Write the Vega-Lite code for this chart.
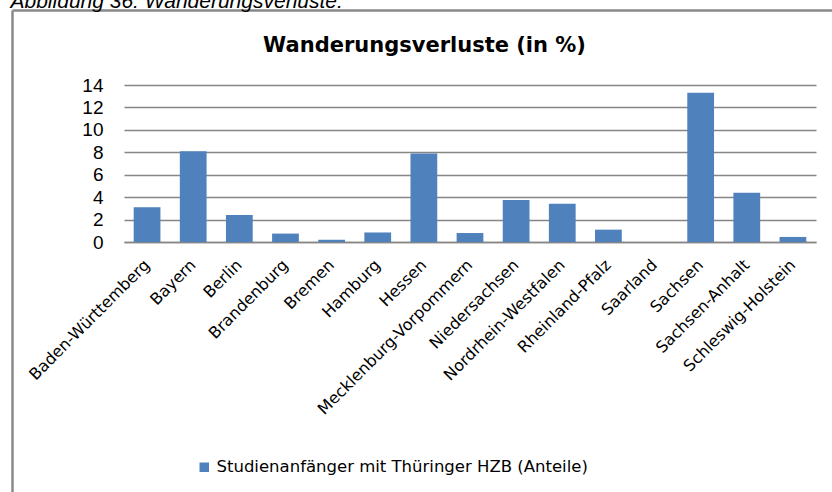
{
  "$schema": "https://vega.github.io/schema/vega-lite/v6.json",
  "autosize": {"type": "none"},
  "padding": {"left": 124, "top": 85, "right": 16, "bottom": 250},
  "width": 692,
  "height": 157,
  "background": "white",
  "config": {"view": {"stroke": null}},
  "data": {
    "values": [
      {"land": "Baden-Württemberg", "wert": 3.1, "serie": "Studienanfänger mit Thüringer HZB (Anteile)"},
      {"land": "Bayern", "wert": 8.1, "serie": "Studienanfänger mit Thüringer HZB (Anteile)"},
      {"land": "Berlin", "wert": 2.4, "serie": "Studienanfänger mit Thüringer HZB (Anteile)"},
      {"land": "Brandenburg", "wert": 0.75, "serie": "Studienanfänger mit Thüringer HZB (Anteile)"},
      {"land": "Bremen", "wert": 0.2, "serie": "Studienanfänger mit Thüringer HZB (Anteile)"},
      {"land": "Hamburg", "wert": 0.85, "serie": "Studienanfänger mit Thüringer HZB (Anteile)"},
      {"land": "Hessen", "wert": 7.9, "serie": "Studienanfänger mit Thüringer HZB (Anteile)"},
      {"land": "Mecklenburg-Vorpommern", "wert": 0.8, "serie": "Studienanfänger mit Thüringer HZB (Anteile)"},
      {"land": "Niedersachsen", "wert": 3.75, "serie": "Studienanfänger mit Thüringer HZB (Anteile)"},
      {"land": "Nordrhein-Westfalen", "wert": 3.4, "serie": "Studienanfänger mit Thüringer HZB (Anteile)"},
      {"land": "Rheinland-Pfalz", "wert": 1.1, "serie": "Studienanfänger mit Thüringer HZB (Anteile)"},
      {"land": "Saarland", "wert": 0, "serie": "Studienanfänger mit Thüringer HZB (Anteile)"},
      {"land": "Sachsen", "wert": 13.3, "serie": "Studienanfänger mit Thüringer HZB (Anteile)"},
      {"land": "Sachsen-Anhalt", "wert": 4.4, "serie": "Studienanfänger mit Thüringer HZB (Anteile)"},
      {"land": "Schleswig-Holstein", "wert": 0.45, "serie": "Studienanfänger mit Thüringer HZB (Anteile)"}
    ]
  },
  "layer": [
    {
      "mark": {"type": "bar"},
      "encoding": {
        "x": {
          "field": "land",
          "type": "nominal",
          "sort": null,
          "scale": {"paddingInner": 0.42, "paddingOuter": 0.21},
          "axis": {
            "orient": "bottom",
            "title": null,
            "labelAngle": -45,
            "labelAlign": "right",
            "labelBaseline": "middle",
            "labelPadding": 20,
            "labelFont": "DejaVu Sans",
            "labelFontSize": 16,
            "labelColor": "black",
            "labelLimit": 400,
            "ticks": false,
            "domain": true,
            "domainColor": "#868686",
            "domainWidth": 1.5,
            "grid": false
          }
        },
        "y": {
          "field": "wert",
          "type": "quantitative",
          "scale": {"domain": [0, 14], "nice": false},
          "axis": {
            "values": [0, 2, 4, 6, 8, 10, 12, 14],
            "labelOverlap": false,
            "title": "Wanderungsverluste (in %)",
            "titleAngle": 0,
            "titleX": 300,
            "titleY": -34,
            "titleAlign": "center",
            "titleBaseline": "alphabetic",
            "titleFont": "DejaVu Sans",
            "titleFontSize": 21,
            "titleFontWeight": "bold",
            "titleColor": "black",
            "labelFont": "Liberation Sans",
            "labelFontSize": 19,
            "labelColor": "black",
            "labelPadding": 21,
            "ticks": false,
            "domain": false,
            "grid": true,
            "gridColor": "#868686",
            "gridWidth": 1.5
          }
        },
        "color": {
          "field": "serie",
          "type": "nominal",
          "scale": {"range": ["#4F81BD"]},
          "legend": {
            "orient": "none",
            "legendX": 72,
            "legendY": 374,
            "title": null,
            "symbolType": "square",
            "symbolSize": 90,
            "symbolStrokeWidth": 0,
            "labelFont": "DejaVu Sans",
            "labelFontSize": 16.5,
            "labelColor": "black",
            "labelLimit": 600
          }
        }
      }
    },
    {
      "mark": {"type": "point", "opacity": 0},
      "encoding": {
        "x": {
          "field": "wert",
          "type": "quantitative",
          "scale": {"domain": [0, 1], "range": [-112, 720]},
          "axis": {
            "orient": "top",
            "offset": 75,
            "labels": false,
            "ticks": false,
            "domain": true,
            "domainColor": "#8a8a8a",
            "domainWidth": 2.5,
            "grid": false,
            "title": "Abbildung 36: Wanderungsverluste:",
            "titleX": -114,
            "titleY": -3,
            "titleAlign": "left",
            "titleAnchor": "start",
            "titleBaseline": "alphabetic",
            "titleFont": "Liberation Sans",
            "titleFontSize": 21,
            "titleFontStyle": "italic",
            "titleFontWeight": "normal",
            "titleColor": "black"
          }
        },
        "y": {
          "field": "wert",
          "type": "quantitative",
          "scale": {"domain": [0, 1], "range": [407, -75]},
          "axis": {
            "orient": "left",
            "offset": 112,
            "labels": false,
            "ticks": false,
            "domain": true,
            "domainColor": "#8a8a8a",
            "domainWidth": 2.5,
            "grid": false,
            "title": null
          }
        }
      }
    }
  ],
  "resolve": {"scale": {"x": "independent", "y": "independent"}, "axis": {"x": "independent", "y": "independent"}}
}
